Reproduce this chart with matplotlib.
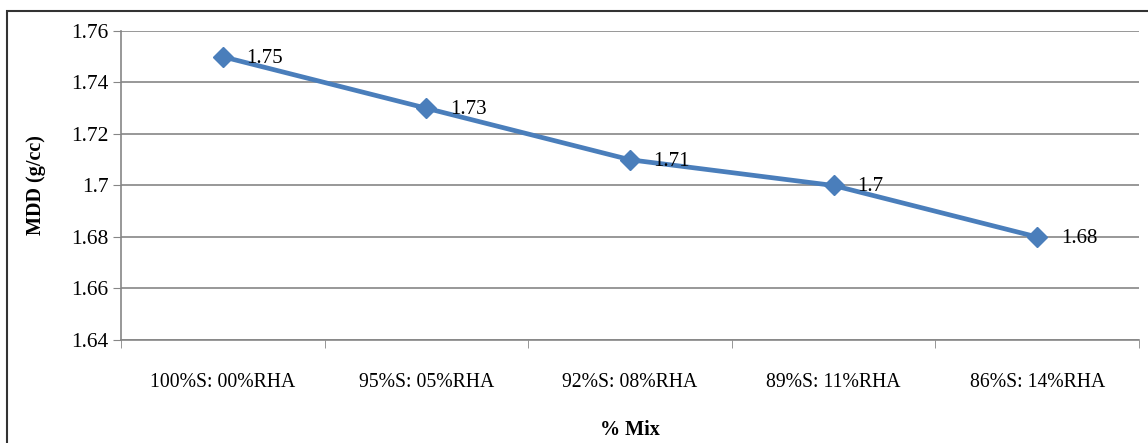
import matplotlib.pyplot as plt
from matplotlib.patches import Rectangle

# data
mixes = ['100%S: 00%RHA', '95%S: 05%RHA', '92%S: 08%RHA', '89%S: 11%RHA', '86%S: 14%RHA']
mdd = [1.75, 1.73, 1.71, 1.70, 1.68]
mdd_labels = ['1.75', '1.73', '1.71', '1.7', '1.68']
yticks = [1.64, 1.66, 1.68, 1.70, 1.72, 1.74, 1.76]
ytick_labels = ['1.64', '1.66', '1.68', '1.7', '1.72', '1.74', '1.76']

plt.rcParams['font.family'] = ['Liberation Serif', 'DejaVu Serif']

fig = plt.figure(figsize=(11.48, 4.43), dpi=100)
ax = fig.add_axes([121/1148, 103/443, 1018/1148, 309/443])

x = list(range(len(mixes)))
ax.plot(x, mdd, color='#4a7ebb', lw=3.4, marker='D', ms=10, mec='#4a7ebb', mfc='#4a7ebb', zorder=3)
for xi, yi, lab in zip(x, mdd, mdd_labels):
    ax.annotate(lab, (xi, yi), xytext=(17, -1), textcoords='offset points',
                va='center', ha='left', fontsize=15, zorder=4)

ax.set_xlim(-0.5, len(mixes) - 0.5)
ax.set_ylim(1.64, 1.76)
ax.set_yticks(yticks)
ax.set_yticklabels(ytick_labels, fontsize=15.5)
ax.set_xticks(x)
ax.set_xticklabels(mixes, fontsize=14.2)
# category boundaries get tick marks, labels sit between them
ax.set_xticks([i - 0.5 for i in range(len(mixes) + 1)], minor=True)
ax.tick_params(axis='x', which='major', length=0, pad=24)
ax.tick_params(axis='x', which='minor', length=6, color='#868686', direction='out')
ax.tick_params(axis='y', length=6, color='#868686', direction='out', pad=3)

ax.grid(axis='y', color='#868686', lw=1.2)
ax.set_axisbelow(True)
for s in ['top', 'right']:
    ax.spines[s].set_visible(False)
for s in ['left', 'bottom']:
    ax.spines[s].set_color('#868686')
    ax.spines[s].set_linewidth(1.2)

ax.set_xlabel('% Mix', fontsize=14.5, fontweight='bold', labelpad=20)
ax.set_ylabel('MDD (g/cc)', fontsize=14.5, fontweight='bold', labelpad=18)

# outer frame
fig.patches.append(Rectangle((7/1148, -0.05), 1.1, (443-11)/443 + 0.05, transform=fig.transFigure,
                             fill=False, ec='#333333', lw=1.5))

fig.savefig('out.png', dpi=100)
